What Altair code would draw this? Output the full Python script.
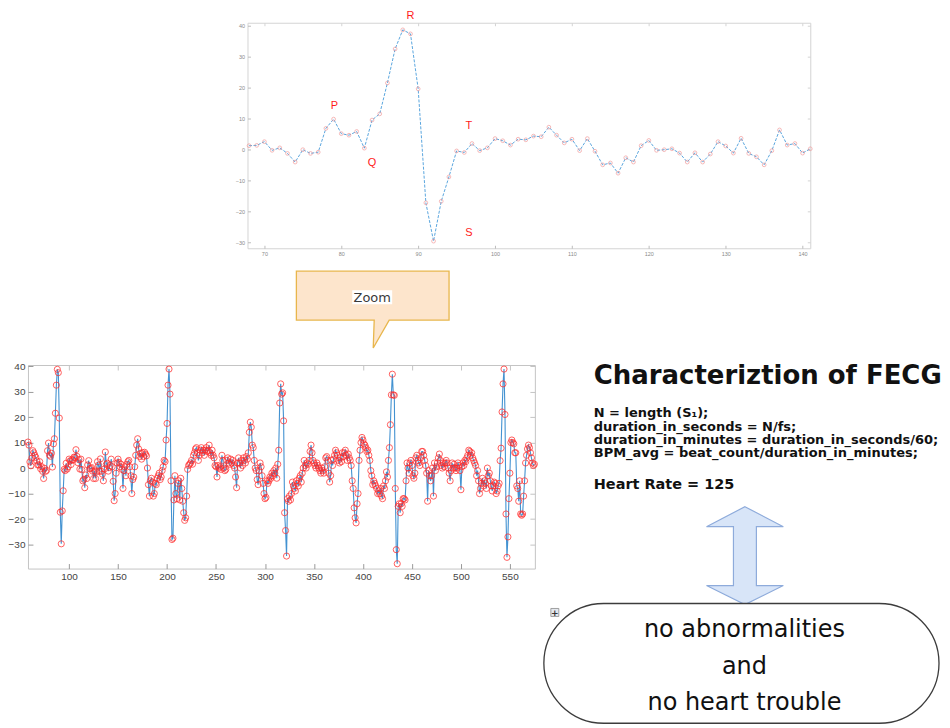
import altair as alt
import pandas as pd

# ---------------------------------------------------------------- data
SAMPLE_START = 58  # first sample index shown in the long record

ecg_58_67 = [10.2, 9.0, 2.4, 0.9, 3.9, 6.8, 6.0, 5.0, 4.2, 2.8]
ecg_68_141 = [1.2, 1.3, 2.5, -0.3, 0.5, -1.3, -4.1, -0.1, -1.3, -0.9,
              6.8, 9.8, 5.1, 4.6, 5.8, 0.4, 9.5, 11.5, 21.5, 32.5,
              38.7, 37.4, 19.6, -17.3, -29.7, -16.8, -8.9, -0.5, -1.0, 1.9,
              -0.4, 0.5, 3.5, 2.8, 1.4, 3.3, 3.1, 4.3, 4.1, 7.2,
              4.6, 2.1, 3.3, -0.4, 3.5, -0.6, -5.0, -4.4, -7.7, -2.7,
              -4.1, 1.2, 2.9, -0.3, -0.1, 0.2, -1.2, -4.1, -1.1, -4.1,
              -1.5, 2.5, 1.1, -1.2, 3.6, -1.3, -2.4, -5.0, -0.4, 6.3,
              1.4, 1.9, -1.2, 0.2]
ecg_142_219 = [1.0, 3.5, 0.5, -5.2, -12.8, -10.0, -2.0, 2.0, 3.5, 2.2,
               0.5, 1.5, -0.5, -8.0, -1.0, 0.5, -3.0, 1.5, 2.5, 3.0,
               0.5, -3.0, -10.0, -4.5, -3.5, 0.5, 5.0, 9.0, 11.5, 7.5,
               4.5, 5.8, 3.5, 6.0, 4.5, 6.2, 5.5, 4.8, 0.0, -6.5,
               -11.0, -5.0, -4.0, -5.5, -11.0, -10.0, -6.0, -6.5, -4.0, -3.0,
               -2.0, -4.5, -3.5, -1.0, 0.5, 3.0, 2.5, 11.0, 17.5, 32.5,
               38.8, 29.0, -5.0, -28.0, -27.5, -12.5, -3.0, -10.0, -12.0, -6.0,
               -5.0, -12.5, -4.0, -8.0, -13.0, -17.5, -20.5, -19.5]
ecg_220_330 = [-11.0, -0.5, 1.0, 1.5, 2.0, 3.0, 1.5, 5.0, 6.0, 7.5,
               8.0, 6.0, 3.0, 5.0, 7.0, 8.0, 6.0, 7.0, 5.0, 7.0,
               8.0, 6.5, 7.0, 9.0, 6.0, 5.0, 7.0, 5.0, 4.0, 1.0,
               0.5, -3.5, 1.0, 0.0, 0.5, -0.5, 5.0, 3.0, 0.0, -1.0,
               -0.5, 3.0, 4.0, 2.0, 1.5, 3.5, 2.0, 3.0, 1.0, 0.0,
               -3.5, -7.7, 2.0, 4.0, 2.0, 0.0, 3.0, 1.0, 4.0, 3.0,
               2.0, 4.5, 3.5, 6.0, 14.0, 18.0, 16.0, 9.0, 8.0, 3.0,
               0.0, -1.0, -4.5, -6.5, -1.0, 2.0, 0.5, -3.0, -6.0, -10.0,
               -12.0, -11.5, -5.0, -6.0, -5.0, -3.5, -4.0, -2.0, -3.0, -1.0,
               -2.0, 0.0, -4.0, 1.5, 7.0, 25.5, 33.0, 29.0, 29.5, 18.5,
               -17.5, -24.5, -34.5, -12.0, -13.0, -11.0, -12.5, -10.0, -5.5, -7.0,
               -8.0]
ecg_331_450 = [-9.0, -5.0, -6.0, -7.0, -4.0, -3.0, -5.5, -2.0, 0.0, 3.0,
               1.0, 0.0, 2.0, 1.5, 3.0, 6.5, 9.0, 6.0, 3.0, 2.0,
               1.0, 0.0, 2.0, 1.0, 0.0, -1.0, -2.0, 0.0, -1.0, -2.0,
               0.5, 4.0, 4.5, 3.0, -2.0, -5.5, -3.0, 3.0, 1.0, 3.5,
               5.0, 7.0, 6.0, 5.0, 3.0, 2.0, 4.0, 2.5, 6.0, 4.5,
               6.0, 7.0, 5.0, 3.0, 5.5, 4.0, 3.0, 1.0, -5.0, -8.0,
               -15.6, -19.5, -21.5, -14.0, -10.0, 3.0, 7.0, 10.0, 12.0, 11.0,
               9.5, 9.0, 8.0, 6.5, 7.0, 5.0, 3.0, -1.0, -3.0, -6.5,
               -5.0, -6.0, -7.0, -8.0, -10.0, -9.0, -10.0, -8.0, -11.0, -12.0,
               -7.0, -8.0, -5.0, -1.5, -3.5, 3.0, 8.0, 17.0, 28.7, 36.8,
               28.7, 28.5, -8.0, -32.0, -37.5, -15.0, -14.0, -17.5, -14.0, -15.0,
               -12.0, -12.0, -12.5, -5.0, 2.0, 0.0, -2.0, 2.0, 3.0, 1.0]
ecg_451_575 = [-3.0, -4.0, -2.0, 4.0, 5.0, 3.0, 2.0, 1.0, 4.0, 6.5,
               6.5, 5.0, 3.0, 1.0, -2.0, -13.0, -1.0, -3.0, -5.0, -3.0,
               0.0, -11.0, 2.0, -1.0, 0.5, 2.0, 4.0, 5.5, 3.0, 1.0,
               0.0, 2.0, 0.5, 2.0, 3.0, 2.0, 0.0, -2.0, -5.0, -1.0,
               2.0, 0.0, 1.5, 0.0, -1.0, 0.0, 2.0, 1.0, -1.0, -8.5,
               0.5, 2.0, 1.0, 3.0, 2.5, 4.0, 5.0, 7.0, 6.5, 5.0,
               6.0, 4.0, 3.0, 2.0, 1.0, -3.0, -1.0, -5.0, -10.0, -8.0,
               -6.0, -4.0, -7.0, -5.0, -6.0, -8.0, 0.0, -3.0, -2.0, -5.0,
               -7.0, -9.0, -7.0, -5.5, -6.0, -10.0, -9.0, -7.0, -6.0, 2.9,
               7.8, 22.0, 33.0, 38.8, 21.0, -18.0, -35.0, -27.0, -12.0, -2.0,
               10.0, 11.0, 10.0, 9.5, 6.0, 6.0, -7.0, -8.0, -13.0, -5.0,
               -18.0, -18.5, -18.0, -11.0, -5.0, 2.0, 5.0, 7.5, 9.0, 8.0,
               6.0, 4.0, 2.0, 1.0, 1.5]

ecg_values = ecg_58_67 + ecg_68_141 + ecg_142_219 + ecg_220_330 + ecg_331_450 + ecg_451_575
sample_index = list(range(SAMPLE_START, SAMPLE_START + len(ecg_values)))

zoom_first, zoom_last = 68, 141

top_x_ticks = [70, 80, 90, 100, 110, 120, 130, 140]
top_y_ticks = [-30, -20, -10, 0, 10, 20, 30, 40]
bottom_x_ticks = [100, 150, 200, 250, 300, 350, 400, 450, 500, 550]
bottom_y_ticks = [-30, -20, -10, 0, 10, 20, 30, 40]

wave_names = ["P", "Q", "R", "S", "T"]
wave_x = [79.1, 84.0, 89.0, 96.6, 96.6]
wave_y = [14.2, -4.5, 43.3, -27.2, 7.7]

panel_title = "Characteriztion of FECG"
formula_lines = [
    "N = length (S\u2081);",
    "duration_in_seconds = N/fs;",
    "duration_in_minutes = duration_in_seconds/60;",
    "BPM_avg = beat_count/duration_in_minutes;",
]
heart_rate = 125
verdict_lines = ["no abnormalities", "and", "no heart trouble"]
callout_label = "Zoom"

# ---------------------------------------------------------------- layout
PAGE = 8
W, H = 934, 712


def c(p):
    return p - PAGE


TOP = {"x0": 248, "x1": 812, "y0": 17, "y1": 243, "xdom": [67.8, 141.0], "ydom": [-32.0, 41.0]}
BOT = {"x0": 28, "x1": 536, "y0": 360, "y1": 564, "xdom": [58.0, 575.5], "ydom": [-39.4, 40.4]}


def box_scales(b):
    xs = alt.Scale(domain=b["xdom"], range=[c(b["x0"]), c(b["x1"])], nice=False, zero=False)
    ys = alt.Scale(domain=b["ydom"], range=[c(b["y1"]), c(b["y0"])], nice=False, zero=False)
    return xs, ys


def label_axes(b, xt, yt, fs, lab_col, frame_col, pad):
    common = dict(title=None, grid=False, ticks=False, tickSize=0, domain=True,
                  domainColor=frame_col, domainWidth=1, labelFontSize=fs,
                  labelColor=lab_col, labelFont="Liberation Sans", labelPadding=pad,
                  labelFlush=False, labelOverlap=False)
    ax = alt.Axis(orient="bottom", offset=c(b["y1"]) - H, values=xt, **common)
    ay = alt.Axis(orient="left", offset=-c(b["x0"]), values=yt, **common)
    return ax, ay


def inner_tick_axes(b, xt, yt, tl, col):
    common = dict(title=None, grid=False, labels=False, domain=False, ticks=True,
                  tickSize=tl, tickColor=col, tickWidth=1)
    ax = alt.Axis(orient="top", offset=-c(b["y1"]), values=xt, **common)
    ay = alt.Axis(orient="right", offset=c(b["x0"]) - W, values=yt, **common)
    return ax, ay


def far_edge_axes(b, xt, yt, tl, col):
    common = dict(title=None, grid=False, labels=False, domain=True, domainColor=col,
                  domainWidth=1, ticks=True, tickSize=tl, tickColor=col, tickWidth=1)
    ax = alt.Axis(orient="bottom", offset=c(b["y0"]) - H, values=xt, **common)
    ay = alt.Axis(orient="left", offset=-c(b["x1"]), values=yt, **common)
    return ax, ay


ecg_df = pd.DataFrame({"sample": sample_index, "value": ecg_values})
wave_df = pd.DataFrame({"name": wave_names, "wx": wave_x, "wy": wave_y})

# ---------------------------------------------------------------- zoomed beat (top)
txs, tys = box_scales(TOP)
t_lab_x, t_lab_y = label_axes(TOP, top_x_ticks, top_y_ticks, 5.5, "#8a8a8a", "#d4d4d4", 3)
t_in_x, t_in_y = inner_tick_axes(TOP, top_x_ticks, top_y_ticks, 3, "#bdbdbd")
t_far_x, t_far_y = far_edge_axes(TOP, top_x_ticks, top_y_ticks, 3, "#d4d4d4")

top_base = alt.Chart(ecg_df).transform_filter(
    f"datum.sample >= {zoom_first} && datum.sample <= {zoom_last}")

top_line = top_base.mark_line(color="#5aa6de", strokeWidth=1, strokeDash=[3, 1.5]).encode(
    x=alt.X("sample:Q", scale=txs, axis=t_lab_x),
    y=alt.Y("value:Q", scale=tys, axis=t_lab_y),
)
top_pts = top_base.mark_point(shape="circle", filled=False, size=14, color="#f09090",
                              strokeWidth=0.9).encode(
    x=alt.X("sample:Q", scale=txs, axis=t_in_x),
    y=alt.Y("value:Q", scale=tys, axis=t_in_y),
)
top_waves = alt.Chart(wave_df).mark_text(color="#ff1a1a", fontSize=11, font="Liberation Sans",
                                         baseline="middle").encode(
    x=alt.X("wx:Q", scale=txs, axis=t_far_x),
    y=alt.Y("wy:Q", scale=tys, axis=t_far_y),
    text="name:N",
)

# ---------------------------------------------------------------- full record (bottom)
bxs, bys = box_scales(BOT)
b_lab_x, b_lab_y = label_axes(BOT, bottom_x_ticks, bottom_y_ticks, 10, "#444444", "#c4c4c4", 3)
b_in_x, b_in_y = inner_tick_axes(BOT, bottom_x_ticks, bottom_y_ticks, 5, "#9a9a9a")
b_far_x, b_far_y = far_edge_axes(BOT, bottom_x_ticks, bottom_y_ticks, 5, "#c4c4c4")

bot_base = alt.Chart(ecg_df)
bot_line = bot_base.mark_line(color="#2f86cc", strokeWidth=1.1, opacity=0.9).encode(
    x=alt.X("sample:Q", scale=bxs, axis=b_lab_x),
    y=alt.Y("value:Q", scale=bys, axis=b_lab_y),
)
bot_pts = bot_base.mark_point(shape="circle", filled=False, size=38, color="#ff2a2a",
                              strokeWidth=1, opacity=0.75).encode(
    x=alt.X("sample:Q", scale=bxs, axis=b_in_x),
    y=alt.Y("value:Q", scale=bys, axis=b_in_y),
)
bot_frame = bot_base.mark_point(opacity=0).encode(
    x=alt.X("sample:Q", scale=bxs, axis=b_far_x),
    y=alt.Y("value:Q", scale=bys, axis=b_far_y),
)

# ---------------------------------------------------------------- annotations (page pixels)
PXS = alt.Scale(domain=[PAGE, PAGE + W], range=[0, W], nice=False, zero=False)
PYS = alt.Scale(domain=[PAGE, PAGE + H], range=[0, H], nice=False, zero=False)


def pos(xf="x", yf="y"):
    return dict(x=alt.X(f"{xf}:Q", scale=PXS, axis=None), y=alt.Y(f"{yf}:Q", scale=PYS, axis=None))


def rect_pos():
    return dict(x=alt.X("x:Q", scale=PXS, axis=None), x2="x2:Q",
                y=alt.Y("y:Q", scale=PYS, axis=None), y2="y2:Q")


def polygon(points):
    ring = [[c(px), c(py)] for px, py in points]
    ring.append(ring[0])
    return [{"type": "Feature", "properties": {}, "geometry": {"type": "Polygon", "coordinates": [ring]}}]


callout_shape = [(297, 266), (450, 266), (450, 315), (390, 315), (374, 343), (375, 315), (297, 315)]
arrow_shape = [(746.5, 502), (785, 522), (758, 522), (758, 581), (785, 581), (746.5, 600),
               (708, 581), (735, 581), (735, 522), (708, 522)]

callout = alt.Chart(alt.Data(values=polygon(callout_shape))).mark_geoshape(
    fill="#fde5cc", stroke="#e8b64c", strokeWidth=1.3).project(
    type="identity", scale=1, translate=[0, 0])
arrow = alt.Chart(alt.Data(values=polygon(arrow_shape))).mark_geoshape(
    fill="#d8e5f8", stroke="#8eabdb", strokeWidth=1.2).project(
    type="identity", scale=1, translate=[0, 0])

zoom_bg = alt.Chart(pd.DataFrame({"x": [353], "x2": [393], "y": [285], "y2": [299]})).mark_rect(
    fill="white").encode(**rect_pos())
zoom_txt = alt.Chart(pd.DataFrame({"x": [373], "y": [296.5], "t": [callout_label]})).mark_text(
    font="DejaVu Sans", fontSize=13, color="#3a3a3a", align="center", baseline="alphabetic").encode(
    **pos(), text="t:N")

title_txt = alt.Chart(pd.DataFrame({"x": [595], "y": [379], "t": [panel_title]})).mark_text(
    font="DejaVu Sans", fontSize=26, fontWeight="bold", color="#111111", align="left",
    baseline="alphabetic").encode(**pos(), text="t:N")

formula_df = pd.DataFrame({"x": [595] * len(formula_lines),
                           "y": [412.5 + 13.3 * i for i in range(len(formula_lines))],
                           "t": formula_lines})
formula_txt = alt.Chart(formula_df).mark_text(
    font="DejaVu Sans", fontSize=13, fontWeight="bold", color="#111111", align="left",
    baseline="alphabetic").encode(**pos(), text="t:N")

hr_txt = alt.Chart(pd.DataFrame({"x": [595], "y": [484], "t": [f"Heart Rate = {heart_rate}"]})).mark_text(
    font="DejaVu Sans", fontSize=14.5, fontWeight="bold", color="#111111", align="left",
    baseline="alphabetic").encode(**pos(), text="t:N")

stadium = alt.Chart(pd.DataFrame({"x": [545], "x2": [941], "y": [599], "y2": [719]})).mark_rect(
    fill="white", stroke="#3c3c3c", strokeWidth=1.3, cornerRadius=60).encode(**rect_pos())

verdict_df = pd.DataFrame({"x": [746] * len(verdict_lines), "y": [632.5, 669.5, 705.5], "t": verdict_lines})
verdict_txt = alt.Chart(verdict_df).mark_text(
    font="DejaVu Sans", fontSize=24, color="#111111", align="center", baseline="alphabetic").encode(
    **pos(), text="t:N")

plus_box = alt.Chart(pd.DataFrame({"x": [552], "x2": [560], "y": [604], "y2": [612]})).mark_rect(
    fill="#e4e8ee", stroke="#8c8c8c", strokeWidth=0.8).encode(**rect_pos())
plus_txt = alt.Chart(pd.DataFrame({"x": [556], "y": [608.3], "t": ["+"]})).mark_text(
    font="DejaVu Sans", fontSize=9, fontWeight="bold", color="#333333", align="center",
    baseline="middle").encode(**pos(), text="t:N")

chart = alt.layer(
    callout, zoom_bg, zoom_txt,
    arrow, stadium, verdict_txt, plus_box, plus_txt,
    title_txt, formula_txt, hr_txt,
    top_line, top_pts, top_waves,
    bot_line, bot_pts, bot_frame,
).resolve_scale(x="independent", y="independent").properties(
    width=W, height=H, padding=0, background="white"
).configure_view(stroke=None)

chart.save("out.html", embed_options={"renderer": "svg", "actions": False})
